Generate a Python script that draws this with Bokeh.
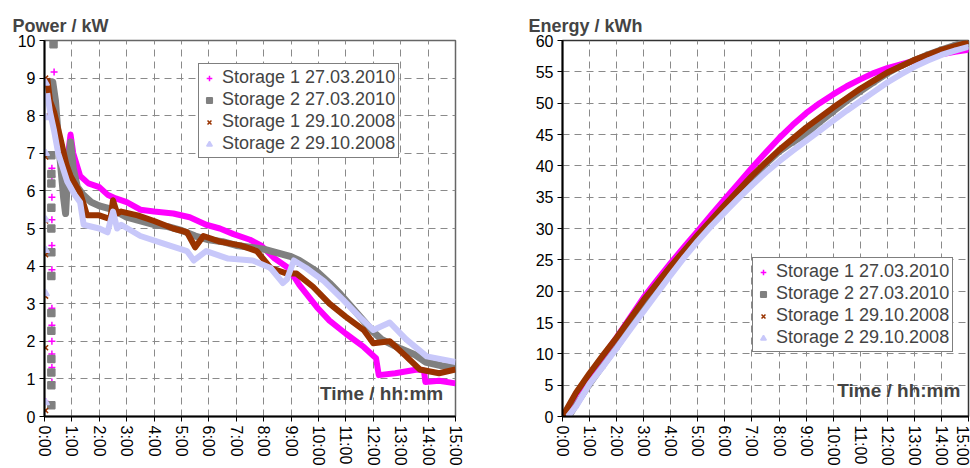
from bokeh.plotting import figure
from bokeh.layouts import row
from bokeh.models import (Legend, LegendItem, Label, FixedTicker, Range1d, Title)
from bokeh.embed import file_html
from bokeh.resources import INLINE

# ---------------- data ----------------
hours = list(range(16))
time_labels = [f"{h}:00" for h in hours]
power_ticks = list(range(11))
energy_ticks = list(range(0, 61, 5))

names = ["Storage 1 27.03.2010", "Storage 2 27.03.2010",
         "Storage 1 29.10.2008", "Storage 2 29.10.2008"]
colors = ["#FF00FF", "#808080", "#993300", "#C8C8FA"]
markers = ["cross", "square", "x", "triangle"]

# Power (kW) -- main traces
s1_2010_t = [0.25, 0.35, 0.5, 0.7, 0.85, 0.95, 1.05, 1.3, 1.6, 2.0, 2.3, 2.6, 3.0, 3.5, 4.0, 4.7,
             5.3, 5.9, 6.4, 6.9, 7.5, 7.9, 8.4, 8.9, 9.3, 9.95, 10.4, 11.0, 11.65, 12.1,
             12.2, 12.8, 13.6, 13.85, 13.9, 14.4, 15.0]
s1_2010_p = [8.6, 8.3, 7.4, 6.6, 6.9, 7.5, 7.0, 6.4, 6.2, 6.1, 5.9, 5.8, 5.7, 5.5, 5.45, 5.4,
             5.3, 5.1, 5.0, 4.85, 4.7, 4.55, 4.2, 3.95, 3.5, 2.9, 2.55, 2.2, 1.85, 1.55,
             1.1, 1.15, 1.25, 1.22, 0.92, 0.95, 0.88]

s2_2010_t = [0.2, 0.3, 0.4, 0.55, 0.7, 0.77, 0.85, 0.95, 1.05, 1.2, 1.4, 1.7, 2.0, 2.5, 3.0, 3.5,
             4.0, 4.5, 5.0, 5.5, 6.0, 6.5, 7.0, 7.5, 8.0, 8.5, 9.0, 9.3, 9.95, 10.4, 10.8,
             11.4, 12.0, 12.3, 13.0, 13.5, 13.9, 14.5, 15.0]
s2_2010_p = [8.5, 8.9, 8.4, 7.0, 5.8, 5.4, 6.5, 7.3, 6.6, 6.1, 5.9, 5.7, 5.6, 5.5, 5.3, 5.2,
             5.1, 5.05, 4.95, 4.8, 4.7, 4.65, 4.55, 4.5, 4.45, 4.35, 4.25, 4.15, 3.85, 3.55, 3.25,
             2.75, 2.25, 2.05, 1.8, 1.65, 1.45, 1.35, 1.3]

s1_2008_t = [0.1, 0.2, 0.35, 0.58, 0.8, 0.95, 1.1, 1.3, 1.45, 1.55, 2.0, 2.4, 2.5, 2.65, 2.8,
             3.4, 4.0, 4.7, 5.2, 5.5, 5.8, 6.4, 7.15, 7.75, 8.25, 8.85, 9.2, 9.8, 10.4, 11.0,
             11.65, 12.0, 12.6, 13.2, 13.7, 14.4, 15.0]
s1_2008_p = [9.0, 8.4, 8.1, 7.4, 6.7, 6.4, 6.2, 5.95, 5.6, 5.35, 5.35, 5.25, 5.75, 5.4, 5.45,
             5.35, 5.2, 5.0, 4.9, 4.5, 4.8, 4.65, 4.55, 4.4, 3.95, 3.8, 3.8, 3.45, 3.0, 2.65,
             2.3, 1.95, 2.0, 1.6, 1.25, 1.15, 1.25]

s2_2008_t = [0.1, 0.2, 0.35, 0.5, 0.83, 1.1, 1.3, 1.43, 2.0, 2.3, 2.5, 2.65, 2.8, 3.5, 4.35,
             5.2, 5.45, 5.9, 6.7, 7.6, 8.25, 8.7, 8.85, 9.1, 9.55, 10.2, 10.9, 11.5, 12.0,
             12.6, 13.2, 13.95, 15.0]
s2_2008_p = [8.6, 8.1, 7.6, 7.0, 6.25, 5.9, 5.7, 5.1, 5.0, 4.9, 5.45, 5.0, 5.1, 4.8, 4.6,
             4.4, 4.15, 4.4, 4.2, 4.15, 3.95, 3.55, 3.65, 4.15, 3.95, 3.6, 3.1, 2.65, 2.3,
             2.5, 2.05, 1.6, 1.45]

# Power (kW) -- isolated start-up points
s1_2010_ramp_t = [0.04, 0.27, 0.27, 0.27, 0.27, 0.27, 0.27, 0.27, 0.27, 0.27, 0.27, 0.27, 0.27, 0.35]
s1_2010_ramp_p = [0.4, 0.92, 1.3, 1.66, 2.0, 2.43, 2.88, 3.9, 4.55, 5.23, 5.83, 6.38, 6.6, 9.16]
s2_2010_ramp_t = [0.25, 0.25, 0.25, 0.25, 0.25, 0.25, 0.25, 0.25, 0.25, 0.25, 0.25, 0.25, 0.25, 0.33]
s2_2010_ramp_p = [0.3, 0.83, 1.17, 1.53, 2.28, 2.75, 3.74, 4.37, 5.0, 5.55, 6.2, 6.45, 6.95, 9.9]
s1_2008_ramp_t = [0.04, 0.04, 0.04, 0.04, 0.04, 0.04, 0.04, 0.04]
s1_2008_ramp_p = [0.16, 1.83, 3.2, 4.3, 5.2, 6.9, 8.0, 9.0]
s2_2008_ramp_t = [0.05, 0.05, 0.05, 0.05, 0.05, 0.05, 0.05]
s2_2008_ramp_p = [0.37, 3.27, 4.42, 5.23, 7.0, 7.95, 8.87]

# Energy (kWh), read every half hour
e_s1_2010_t = [0.05, 0.5, 1.0, 1.5, 2.0, 2.5, 3.0, 3.5, 4.0, 4.5, 5.0, 5.5, 6.0, 6.5, 7.0, 7.5,
               8.0, 8.5, 9.0, 9.5, 10.0, 10.5, 11.0, 11.5, 12.0, 12.5, 13.0, 13.5, 14.0, 14.5, 15.0]
e_s1_2010_e = [0, 3.6, 6.6, 9.6, 12.6, 15.8, 19.0, 21.8, 24.5, 27.1, 29.6, 32.2, 34.7, 37.2, 39.7,
               42.1, 44.4, 46.5, 48.4, 50.0, 51.4, 52.7, 53.8, 54.8, 55.6, 56.2, 56.8, 57.3, 57.8,
               58.2, 58.5]
e_s2_2010_t = [0.25, 0.5, 1.0, 1.5, 2.0, 2.5, 3.0, 3.5, 4.0, 4.5, 5.0, 5.5, 6.0, 6.5, 7.0, 7.5,
               8.0, 8.5, 9.0, 9.5, 10.0, 10.5, 11.0, 11.5, 12.0, 12.5, 13.0, 13.5, 14.0, 14.5, 15.0]
e_s2_2010_e = [0, 1.8, 5.1, 8.1, 11.0, 14.1, 17.1, 20.1, 23.0, 25.8, 28.5, 31.1, 33.5, 35.8, 38.0,
               40.2, 42.2, 43.7, 45.0, 46.9, 48.6, 50.3, 51.8, 53.3, 54.7, 55.9, 56.9, 57.8, 58.6,
               59.3, 60.0]
e_s1_2008_t = [0.0, 0.5, 1.0, 1.5, 2.0, 2.5, 3.0, 3.5, 4.0, 4.5, 5.0, 5.5, 6.0, 6.5, 7.0, 7.5,
               8.0, 8.5, 9.0, 9.5, 10.0, 10.5, 11.0, 11.5, 12.0, 12.5, 13.0, 13.5, 14.0, 14.5, 15.0]
e_s1_2008_e = [0, 3.8, 6.9, 9.8, 12.6, 15.6, 18.6, 21.3, 24.0, 26.5, 29.0, 31.4, 33.8, 36.1, 38.4,
               40.5, 42.5, 44.3, 46.1, 47.7, 49.3, 50.8, 52.3, 53.6, 54.9, 55.9, 56.9, 57.7, 58.5,
               59.1, 59.7]
e_s2_2008_t = [0.2, 0.5, 1.0, 1.5, 2.0, 2.5, 3.0, 3.5, 4.0, 4.5, 5.0, 5.5, 6.0, 6.5, 7.0, 7.5,
               8.0, 8.5, 9.0, 9.5, 10.0, 10.5, 11.0, 11.5, 12.0, 12.5, 13.0, 13.5, 14.0, 14.5, 15.0]
e_s2_2008_e = [0, 1.6, 5.2, 8.0, 10.9, 13.9, 16.8, 19.7, 22.6, 25.4, 28.0, 30.4, 32.6, 34.8, 36.9,
               38.9, 40.7, 42.4, 44.0, 45.6, 47.2, 48.8, 50.3, 51.8, 53.3, 54.6, 55.8, 56.8, 57.7,
               58.4, 59.0]

FONT = "Liberation Sans"

power_main = [(s1_2010_t, s1_2010_p), (s2_2010_t, s2_2010_p),
              (s1_2008_t, s1_2008_p), (s2_2008_t, s2_2008_p)]
power_ramp = [(s1_2010_ramp_t, s1_2010_ramp_p), (s2_2010_ramp_t, s2_2010_ramp_p),
              (s1_2008_ramp_t, s1_2008_ramp_p), (s2_2008_ramp_t, s2_2008_ramp_p)]
energy = [(e_s1_2010_t, e_s1_2010_e), (e_s2_2010_t, e_s2_2010_e),
          (e_s1_2008_t, e_s1_2008_e), (e_s2_2008_t, e_s2_2008_e)]


def style(p, yticks):
    p.xaxis.ticker = FixedTicker(ticks=hours)
    p.xaxis.major_label_overrides = {h: lab for h, lab in zip(hours, time_labels)}
    p.xaxis.major_label_orientation = "vertical"
    p.yaxis.ticker = FixedTicker(ticks=yticks)
    for ax in (p.xaxis[0], p.yaxis[0]):
        ax.major_label_text_font = FONT
        ax.major_label_text_font_size = "16px"
        ax.major_label_text_color = "black"
        ax.axis_line_color = "black"
        ax.axis_line_width = 2
        ax.major_tick_line_color = "black"
        ax.major_tick_in = 0
        ax.major_tick_out = 5
        ax.minor_tick_line_color = None
        ax.major_label_standoff = 4
    p.grid.grid_line_color = "#8a8a8a"
    p.grid.grid_line_dash = "7 5"
    p.grid.grid_line_width = 1
    p.outline_line_color = "#666666"
    p.outline_line_width = 1.5
    p.background_fill_color = "white"
    p.border_fill_color = "white"


def add_legend(p, renderers, loc):
    items = [LegendItem(label=n, renderers=[r]) for n, r in zip(names, renderers)]
    leg = Legend(items=items, location=loc)
    leg.label_text_font = FONT
    leg.label_text_font_size = "18px"
    leg.label_height = 18
    leg.glyph_height = 18
    leg.glyph_width = 14
    leg.label_standoff = 6
    leg.spacing = 1
    leg.padding = 3
    leg.margin = 0
    leg.border_line_color = "black"
    leg.border_line_width = 1.5
    leg.background_fill_alpha = 1
    p.add_layout(leg, "center")


# ---------------- power figure ----------------
p1 = figure(width=485, height=468, output_backend="svg", toolbar_location=None,
            x_range=Range1d(0, 15), y_range=Range1d(0, 10),
            min_border_left=44, min_border_right=30, min_border_top=40, min_border_bottom=46)
style(p1, power_ticks)
leg1 = []
for (t, v), (rt, rv), c, m, w in zip(power_main, power_ramp, colors, markers, [6, 7, 6, 6]):
    p1.line(t, v, line_color=c, line_width=w, line_join="round")
    r = p1.scatter(rt, rv, marker=m, size=7, line_color=c, fill_color=c, line_width=1.5)
    leg1.append(r)
add_legend(p1, leg1, (154, 258))
p1.add_layout(Title(text="Power / kW", text_font=FONT, text_font_size="18px",
                    text_font_style="bold", align="left", offset=-32), "above")
p1.add_layout(Label(x=14.55, y=0.33, text="Time / hh:mm", text_align="right",
                    text_font=FONT, text_font_size="19px", text_font_style="bold"))

# ---------------- energy figure ----------------
p2 = figure(width=485, height=468, output_backend="svg", toolbar_location=None,
            x_range=Range1d(0, 15), y_range=Range1d(0, 60),
            min_border_left=77, min_border_right=2, min_border_top=37, min_border_bottom=50)
style(p2, energy_ticks)
p2.outline_line_color = "#333333"
leg2 = []
for (t, v), c, m in zip(energy, colors, markers):
    r = p2.scatter(t, v, marker=m, size=4, line_color=c, fill_color=c, line_width=1.5)
    p2.line(t, v, line_color=c, line_width=6, line_join="round")
    leg2.append(r)
add_legend(p2, leg2, (190, 64))
p2.add_layout(Title(text="Energy / kWh", text_font=FONT, text_font_size="18px",
                    text_font_style="bold", align="left", offset=-34), "above")
p2.add_layout(Label(x=14.7, y=2.5, text="Time / hh:mm", text_align="right",
                    text_font=FONT, text_font_size="19px", text_font_style="bold"))

layout = row(p1, p2)
open("out.html", "w").write(file_html(layout, INLINE))
